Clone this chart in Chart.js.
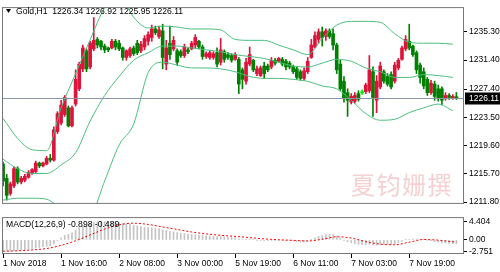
<!DOCTYPE html>
<html lang="en">
<head>
<meta charset="UTF-8">
<title>Gold H1</title>
<script src="https://cdn.jsdelivr.net/npm/chart.js"></script>
<style>
  html, body { margin: 0; padding: 0; background: #fff; }
  #wrap { position: relative; width: 500px; height: 272px; overflow: hidden; }
  .pane { position: absolute; left: 0; width: 500px; }
  #mainPane { top: 0; height: 211px; }
  #macdPane { top: 210px; height: 62px; }
  #mark { position: absolute; left: 351px; top: 172px; font-family: "Noto Sans CJK SC"; font-size: 24px;
          line-height: 1; letter-spacing: 1.5px; color: rgba(236, 150, 150, 0.45); }
</style>
</head>
<body>
<div id="wrap">
  <div class="pane" id="mainPane"><canvas id="mainChart"></canvas></div>
  <div class="pane" id="macdPane"><canvas id="macdChart"></canvas></div>
  <div id="mark">夏钧姗撰</div>
</div>
<script>
// ---- data (Gold H1) ----
const symbol = 'Gold,H1';
const opens = [1217.05,1215.08,1212.98,1214.03,1216.40,1214.56,1214.82,1215.22,1215.74,1216.00,
  1217.18,1216.79,1217.05,1217.84,1217.58,1221.52,1222.70,1223.88,1224.80,1222.31,
  1225.33,1227.43,1230.18,1232.68,1230.45,1232.94,1234.25,1233.99,1233.33,1233.07,
  1233.07,1233.99,1233.73,1233.07,1231.76,1232.02,1233.07,1233.73,1232.68,1233.20,
  1233.99,1234.52,1235.70,1234.65,1235.43,1230.84,1233.73,1232.94,1232.68,1232.55,
  1232.02,1232.81,1232.94,1233.47,1233.99,1233.20,1231.89,1231.76,1231.76,1232.42,
  1231.10,1232.55,1232.15,1232.02,1231.50,1231.50,1230.05,1228.48,1230.84,1231.37,
  1229.53,1229.26,1230.58,1230.58,1230.45,1231.37,1231.23,1231.50,1231.23,1230.97,
  1230.45,1230.18,1229.79,1228.87,1229.79,1231.76,1233.20,1234.25,1235.30,1234.65,
  1235.43,1235.04,1233.47,1230.84,1228.48,1226.90,1225.59,1225.72,1226.77,1227.03,
  1227.03,1227.16,1229.79,1225.85,1227.69,1229.79,1229.13,1229.40,1228.48,1230.31,
  1231.50,1232.94,1233.99,1233.33,1232.42,1230.71,1229.79,1228.74,1226.90,1228.08,
  1227.43,1227.43,1226.11,1226.51,1226.11,1226.34];
const highs = [1217.32,1215.61,1214.56,1216.66,1216.66,1215.35,1215.61,1216.13,1216.40,1217.45,
  1217.32,1217.32,1218.10,1218.37,1222.17,1224.27,1225.85,1226.51,1225.06,1225.06,
  1230.05,1231.10,1233.47,1232.94,1233.99,1237.27,1234.52,1234.12,1233.60,1233.20,
  1234.25,1234.25,1234.12,1233.20,1232.81,1233.20,1233.33,1234.12,1233.99,1234.78,
  1235.30,1236.22,1236.09,1236.09,1236.35,1234.12,1236.09,1234.65,1232.94,1232.81,
  1233.60,1233.07,1233.99,1234.91,1234.12,1233.47,1232.55,1232.68,1232.55,1233.07,
  1234.38,1232.81,1232.42,1232.28,1232.42,1231.76,1230.31,1231.63,1233.20,1231.50,
  1230.58,1230.58,1231.10,1230.84,1231.76,1231.63,1231.76,1231.76,1231.50,1231.23,
  1230.71,1230.45,1230.05,1230.31,1231.76,1234.25,1235.30,1235.70,1235.96,1235.70,
  1235.70,1235.70,1233.73,1231.37,1229.13,1227.43,1226.77,1226.90,1227.16,1227.29,
  1228.21,1232.02,1230.45,1229.26,1231.10,1230.05,1229.53,1229.79,1231.10,1231.63,
  1233.33,1234.78,1236.35,1233.47,1232.68,1230.97,1230.31,1229.00,1228.61,1228.48,
  1227.95,1227.69,1226.90,1226.77,1226.64,1226.92];
const lows = [1214.03,1212.06,1212.72,1213.77,1214.30,1214.30,1214.56,1215.08,1215.61,1215.87,
  1216.53,1216.66,1216.92,1217.32,1217.45,1221.25,1222.44,1223.62,1222.17,1222.17,
  1225.06,1227.16,1229.79,1229.79,1230.18,1232.68,1233.07,1232.81,1232.42,1232.55,
  1232.94,1232.81,1232.68,1231.37,1231.37,1231.76,1232.02,1232.15,1232.42,1232.81,
  1233.47,1233.99,1234.91,1234.38,1230.18,1230.05,1231.50,1232.68,1230.71,1231.76,
  1231.76,1232.28,1232.81,1233.07,1232.94,1231.50,1231.63,1231.50,1231.50,1230.45,
  1230.71,1231.10,1231.50,1231.10,1231.37,1226.77,1227.43,1228.08,1230.58,1229.79,
  1229.26,1229.13,1228.87,1229.79,1230.18,1230.71,1231.10,1230.58,1230.05,1230.18,
  1229.53,1228.74,1228.61,1228.61,1229.53,1231.63,1233.07,1233.73,1233.33,1234.12,
  1234.38,1232.81,1229.53,1227.16,1225.59,1223.62,1225.33,1225.46,1225.72,1226.64,
  1226.77,1226.90,1223.62,1224.14,1227.43,1228.21,1227.82,1227.43,1228.21,1230.05,
  1231.37,1232.68,1232.81,1231.89,1229.53,1228.21,1227.43,1226.51,1226.64,1225.85,
  1225.72,1225.19,1225.85,1225.98,1225.98,1225.95];
const closes = [1214.69,1212.72,1214.30,1216.40,1214.56,1215.08,1215.35,1215.87,1216.27,1217.18,
  1216.79,1217.18,1217.84,1217.58,1221.78,1224.01,1225.19,1226.24,1222.31,1224.80,
  1228.74,1230.84,1233.07,1230.18,1233.73,1234.12,1233.47,1233.20,1232.81,1232.81,
  1233.99,1233.20,1232.94,1231.76,1232.68,1232.94,1232.28,1232.42,1233.60,1234.38,
  1234.91,1235.70,1235.17,1235.57,1231.76,1233.07,1232.15,1234.12,1231.10,1232.02,
  1233.20,1232.55,1233.73,1234.52,1233.20,1231.89,1232.28,1232.42,1232.28,1230.84,
  1232.81,1231.50,1231.76,1231.37,1232.15,1228.08,1228.74,1231.10,1232.15,1230.05,
  1230.18,1230.31,1229.53,1230.05,1231.37,1230.97,1231.63,1230.84,1230.45,1230.45,
  1229.79,1229.00,1228.87,1229.92,1231.23,1233.47,1234.78,1235.30,1234.52,1235.43,
  1234.65,1233.47,1230.05,1227.43,1226.11,1225.85,1226.38,1226.51,1225.98,1226.90,
  1227.95,1230.05,1226.24,1228.48,1230.58,1228.48,1228.08,1227.69,1230.71,1231.37,
  1233.07,1234.25,1233.07,1232.15,1230.05,1229.00,1227.82,1226.90,1228.21,1226.38,
  1226.11,1225.85,1226.51,1226.24,1226.38,1226.11];

// Bollinger bands (20), read at every 4th bar
const bandBars = [0,4,8,12,16,20,24,28,32,36,40,44,48,52,56,60,64,68,72,76,80,84,88,92,96,100,104,108,112,116,120,124];
const bandUpper = [1223.35,1220.59,1219.02,1218.89,1224.80,1229.53,1234.20,1238.60,1240.29,1237.30,
  1235.83,1236.09,1235.96,1235.69,1235.69,1235.56,1234.25,1234.12,1234.12,1233.46,
  1232.81,1232.15,1234.38,1236.22,1236.74,1236.74,1236.61,1235.04,1233.86,1233.72,1233.72,1233.59];
const bandMiddle = [1217.71,1216.39,1215.74,1215.74,1216.92,1218.62,1222.96,1226.50,1229.13,1231.37,
  1232.41,1233.33,1233.33,1233.07,1232.81,1232.54,1232.15,1231.89,1231.62,1231.10,
  1230.57,1230.44,1230.97,1231.49,1231.23,1230.31,1229.79,1229.00,1229.00,1229.39,1229.26,1229.00];
const bandLower = [1212.06,1212.32,1212.32,1212.19,1210.75,1209.43,1209.83,1214.69,1219.68,1222.56,
  1229.66,1231.10,1230.70,1230.31,1230.31,1230.18,1229.79,1229.13,1228.87,1228.87,
  1228.73,1228.47,1227.82,1227.42,1225.85,1224.01,1223.09,1223.22,1224.14,1224.80,1225.32,1224.40];

// MACD(12,26,9): main per bar, signal read at every 4th bar
const macdMain = [-2.70,-2.72,-2.70,-2.55,-2.50,-2.40,-2.30,-2.20,-2.05,-1.90,-1.80,-1.65,-1.50,-1.40,
  -0.90,-0.20,0.50,1.10,1.30,1.70,2.30,2.90,3.40,3.55,3.90,4.15,
  4.30,4.40,4.404,4.35,4.30,4.25,4.15,4.00,3.85,3.70,
  3.50,3.35,3.20,3.05,2.95,2.90,2.80,2.70,2.40,2.25,
  2.05,1.95,1.75,1.60,1.50,1.40,1.30,1.25,1.15,1.05,
  1.00,0.95,0.90,0.80,0.80,0.75,0.70,0.65,0.60,0.30,
  0.15,0.15,0.20,0.05,-0.05,-0.10,-0.15,-0.15,-0.10,-0.10,
  -0.05,-0.10,-0.15,-0.20,-0.30,-0.40,-0.50,-0.50,-0.35,0.05,
  0.45,0.85,1.05,1.25,1.30,1.25,0.95,0.45,-0.05,-0.45,
  -0.70,-0.90,-1.05,-1.15,-1.20,-1.05,-1.25,-1.25,-1.10,-1.10,
  -1.10,-1.15,-0.90,-0.60,-0.30,0.05,0.15,0.25,0.20,0.15,
  0.05,-0.15,-0.20,-0.40,-0.55,-0.70,-0.75,-0.85,-0.88,-0.898];
const signalBars = [0,4,8,12,16,20,24,28,32,36,40,44,48,52,56,60,64,68,72,76,80,84,88,92,96,100,104,108,112,116,120,124,125];
const macdSignal = [-2.70,-2.60,-2.40,-2.05,-1.30,-0.20,1.20,2.60,3.60,4.00,
  3.70,3.10,2.50,1.90,1.45,1.10,0.85,0.55,0.25,0.05,
  -0.10,-0.25,0.15,0.75,0.45,-0.40,-1.00,-1.15,-0.55,0.10,
  -0.05,-0.45,-0.489];

const timeBars = [0,16,32,48,64,80,96,112];
const timeLabels = ['1 Nov 2018','1 Nov 16:00','2 Nov 08:00','3 Nov 00:00','5 Nov 19:00','6 Nov 11:00','7 Nov 03:00','7 Nov 19:00'];
const priceTicks = [1211.80,1215.70,1219.60,1223.50,1227.40,1231.40,1235.30];
const macdTicks = [-2.751,0,4.404];
const macdTickText = ['-2.751','0.00','4.404'];

// ---- look ----
const FONT = '"Liberation Sans", Arial, sans-serif';
const BULL = '#dc143c', BEAR = '#008000', DOJI = '#00ee00';
const BAND = '#4cbf7e';
const FRAME = '#777777';
const X_MIN = -0.3, X_MAX = 127.1;

Chart.defaults.font.family = FONT;
Chart.defaults.font.size = 8.5;
Chart.defaults.color = '#000';

const candleColor = closes.map((c, i) => Math.abs(c - opens[i]) < 0.15 ? DOJI : (c > opens[i] ? BULL : BEAR));
const wicks = highs.map((h, i) => ({ x: i, y: [lows[i], h] }));
const bodies = opens.map((o, i) => ({ x: i, y: [Math.min(o, closes[i]), Math.max(o, closes[i])] }));
const band = vals => vals.map((v, k) => ({ x: bandBars[k], y: v }));

const mainDecor = {
  id: 'mainDecor',
  afterDatasetsDraw(chart) {
    const { ctx, chartArea: a, scales: { y } } = chart;
    const last = closes.length - 1;
    const py = Math.round(y.getPixelForValue(closes[last])) + 0.5;
    ctx.save();
    ctx.lineWidth = 1;
    ctx.strokeStyle = '#8a96a3';
    ctx.beginPath(); ctx.moveTo(a.left, py); ctx.lineTo(a.right, py); ctx.stroke();
    ctx.strokeStyle = FRAME;
    ctx.strokeRect(a.left + 0.5, a.top + 0.5, a.right - a.left - 1, a.bottom - a.top - 1);
    // current price box
    ctx.fillStyle = '#000';
    ctx.fillRect(a.right + 1, py - 6, 36, 12);
    ctx.fillStyle = '#fff';
    ctx.font = '8.5px ' + FONT;
    ctx.textBaseline = 'middle';
    ctx.fillText(closes[last].toFixed(2), a.right + 5, py + 0.5);
    // header
    ctx.fillStyle = '#000';
    ctx.beginPath(); ctx.moveTo(6, 9); ctx.lineTo(11, 9); ctx.lineTo(8.5, 13); ctx.closePath(); ctx.fill();
    ctx.font = '8.6px ' + FONT;
    const txt = symbol + '  ' + [opens[last], highs[last], lows[last], closes[last]].map(v => v.toFixed(2)).join(' ');
    ctx.fillText(txt, 16, 11.5);
    ctx.restore();
  }
};

new Chart(document.getElementById('mainChart'), {
  type: 'bar',
  data: {
    datasets: [
      { type: 'line', data: band(bandUpper), borderColor: BAND, borderWidth: 1, pointRadius: 0, cubicInterpolationMode: 'monotone', order: 0 },
      { type: 'line', data: band(bandMiddle), borderColor: BAND, borderWidth: 1, pointRadius: 0, cubicInterpolationMode: 'monotone', order: 0 },
      { type: 'line', data: band(bandLower), borderColor: BAND, borderWidth: 1, pointRadius: 0, cubicInterpolationMode: 'monotone', order: 0 },
      { data: bodies, backgroundColor: candleColor, barThickness: 3, minBarLength: 1, grouped: false, order: 1 },
      { data: wicks, backgroundColor: candleColor, barThickness: 1, grouped: false, order: 2 }
    ]
  },
  options: {
    responsive: true, maintainAspectRatio: false, animation: false,
    layout: { padding: { left: 2, top: 2, right: 0, bottom: 2 } },
    plugins: { legend: { display: false }, tooltip: { enabled: false } },
    scales: {
      x: { type: 'linear', min: X_MIN, max: X_MAX, offset: false, display: false },
      y: {
        position: 'right', min: 1211.54, max: 1238.71,
        afterBuildTicks: s => { s.ticks = priceTicks.map(v => ({ value: v })); },
        afterFit: s => { s.width = 36; },
        grid: { drawOnChartArea: false, tickLength: 3, color: '#000' },
        border: { display: false },
        ticks: { padding: 2, callback: v => v.toFixed(2) }
      }
    }
  },
  plugins: [mainDecor]
});

const macdDecor = {
  id: 'macdDecor',
  afterDatasetsDraw(chart) {
    const { ctx, chartArea: a } = chart;
    ctx.save();
    ctx.strokeStyle = FRAME;
    ctx.lineWidth = 1;
    ctx.strokeRect(a.left + 0.5, a.top + 0.5, a.right - a.left - 1, a.bottom - a.top - 1);
    ctx.fillStyle = '#000';
    ctx.font = '8.6px ' + FONT;
    ctx.textBaseline = 'middle';
    const n = macdMain.length - 1;
    ctx.fillText('MACD(12,26,9) ' + macdMain[n].toFixed(3) + ' ' + macdSignal[macdSignal.length - 1].toFixed(3), 6, a.top + 8);
    ctx.restore();
  }
};

new Chart(document.getElementById('macdChart'), {
  type: 'bar',
  data: {
    datasets: [
      { type: 'line', data: macdSignal.map((v, k) => ({ x: signalBars[k], y: v })), borderColor: '#ff0000', borderWidth: 1,
        borderDash: [2, 2], pointRadius: 0, cubicInterpolationMode: 'monotone', order: 0 },
      { data: macdMain.map((v, i) => ({ x: i, y: v })), backgroundColor: '#c4c4c4', barThickness: 1, grouped: false, order: 1 }
    ]
  },
  options: {
    responsive: true, maintainAspectRatio: false, animation: false,
    layout: { padding: { left: 2, top: 2, right: 0, bottom: 0 } },
    plugins: { legend: { display: false }, tooltip: { enabled: false } },
    scales: {
      x: {
        type: 'linear', min: X_MIN, max: X_MAX, offset: false,
        afterBuildTicks: s => { s.ticks = timeBars.map(v => ({ value: v })); },
        afterFit: s => { s.height = 18; },
        grid: { drawOnChartArea: false, offset: false, tickLength: 4, color: '#000' },
        border: { display: false },
        ticks: { align: 'start', maxRotation: 0, autoSkip: false, padding: 1, callback: (v, i) => timeLabels[i] }
      },
      y: {
        position: 'right', min: -3.36, max: 5.45,
        afterBuildTicks: s => { s.ticks = macdTicks.map(v => ({ value: v })); },
        afterFit: s => { s.width = 36; },
        grid: { drawOnChartArea: false, tickLength: 3, color: '#000' },
        border: { display: false },
        ticks: { padding: 2, callback: (v, i) => macdTickText[i] }
      }
    }
  },
  plugins: [macdDecor]
});
</script>
</body>
</html>
